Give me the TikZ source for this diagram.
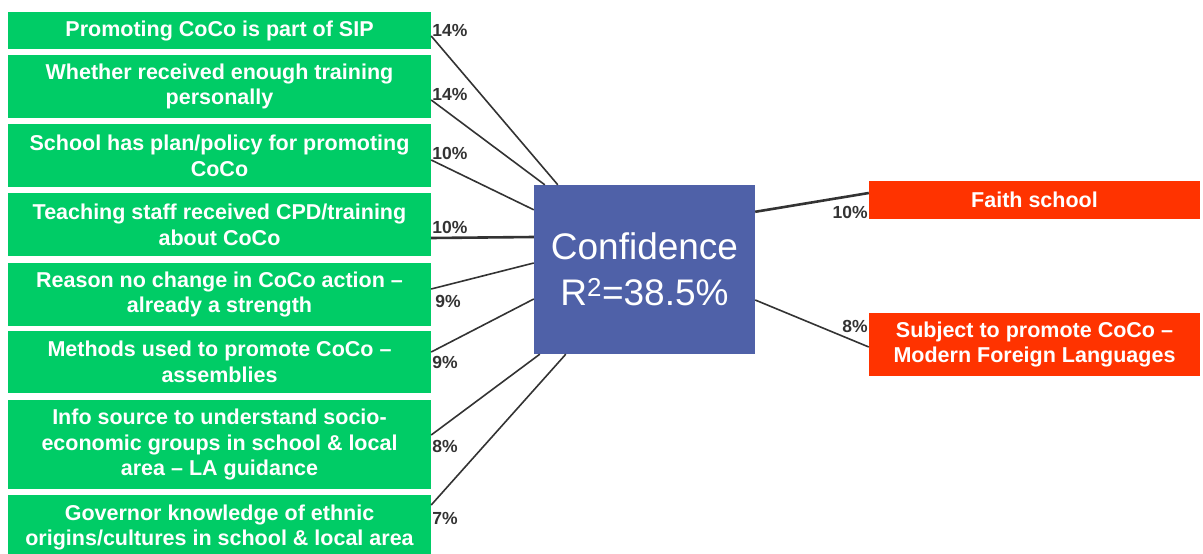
\documentclass[tikz,border=0pt]{standalone}
\usepackage{fontspec}
\setmainfont{Liberation Sans}
\usetikzlibrary{positioning}

\definecolor{factorgreen}{RGB}{0,204,102}
\definecolor{outcomered}{RGB}{255,51,0}
\definecolor{coreblue}{RGB}{79,97,168}
\definecolor{linkgray}{RGB}{51,51,51}

\tikzset{
	factor/.style={fill=factorgreen, text=white, align=center, inner sep=0pt,
		minimum width=423pt, font=\fontsize{21.5}{25.8}\selectfont\bfseries},
	outcome/.style={fill=outcomered, text=white, align=center, inner sep=0pt,
		minimum width=331pt, font=\fontsize{21.5}{25.8}\selectfont\bfseries},
	core/.style={fill=coreblue, text=white, align=center, inner sep=0pt,
		minimum width=221pt, minimum height=169pt, font=\fontsize{37}{46}\selectfont},
	pct/.style={text=linkgray, inner sep=1pt, font=\fontsize{17.5}{20}\selectfont\bfseries},
	link/.style={draw=linkgray, line width=1.6pt},
	boldlink/.style={draw=linkgray, line width=2.6pt}
}

\begin{document}
\begin{tikzpicture}[x=1pt, y=-1pt]
		\useasboundingbox (0,0) rectangle (1203,554);
		
		% predictors
		\node[factor, minimum height=37pt] (sip) at (219.5,30.5) {Promoting CoCo is part of SIP};
		\node[factor, minimum height=63pt] (training) at (219.5,86.5) {Whether received enough training\\personally};
		\node[factor, minimum height=63pt] (policy) at (219.5,155.5) {School has plan/policy for promoting\\CoCo};
		\node[factor, minimum height=63pt] (cpd) at (219.5,224.5) {Teaching staff received CPD/training\\about CoCo};
		\node[factor, minimum height=63pt] (nochange) at (219.5,294.5) {Reason no change in CoCo action –\\already a strength};
		\node[factor, minimum height=62pt] (assembly) at (219.5,362) {Methods used to promote CoCo –\\assemblies};
		\node[factor, minimum height=89pt] (infosrc) at (219.5,444.5) {Info source to understand socio-\\economic groups in school \& local\\area – LA guidance};
		\node[factor, minimum height=65pt] (governor) at (219.5,527.5) {Governor knowledge of ethnic\\origins/cultures in school \& local area};
		
		\node[core] (conf) at (644.5,269.5) {Confidence\\R\textsuperscript{2}=38.5\%};
		
		\node[outcome, minimum height=38pt] (faith) at (1034.5,200) {Faith school};
		\node[outcome, minimum height=63pt] (mfl) at (1034.5,344.5) {Subject to promote CoCo –\\Modern Foreign Languages};
		
		% links into the centre
		\draw[link] ([yshift=-5.5pt]sip.east) -- ([xshift=24pt]conf.north west);
		\draw[link] ([yshift=-13.5pt]training.east) -- ([xshift=11pt]conf.north west);
		\draw[link] ([yshift=-4.5pt]policy.east) -- ([yshift=-25pt]conf.north west);
		\draw[boldlink] ([yshift=-13.5pt]cpd.east) -- ([yshift=32.5pt]conf.west);
		\draw[link] ([yshift=5.5pt]nochange.east) -- ([yshift=6.5pt]conf.west);
		\draw[link] ([yshift=10pt]assembly.east) -- ([yshift=-29.5pt]conf.west);
		\draw[link] ([yshift=9.5pt]infosrc.east) -- ([xshift=6pt]conf.south west);
		\draw[link] ([yshift=22.5pt]governor.east) -- ([xshift=32pt]conf.south west);
		\draw[boldlink] ([yshift=-27pt]conf.north east) -- ([yshift=7pt]faith.west);
		\draw[link] ([yshift=-30.5pt]conf.east) -- ([yshift=-2.5pt]mfl.west);
		
		% percentages
		\node[pct, right=0pt of sip] (w-sip) {14\%};
		\node[pct, right=0pt of training, yshift=-7.5pt] (w-training) {14\%};
		\node[pct, right=0pt of policy, yshift=2.5pt] (w-policy) {10\%};
		\node[pct, right=0pt of cpd, yshift=-2.5pt] (w-cpd) {10\%};
		\node[pct, right=3pt of nochange, yshift=-6.5pt] (w-nochange) {9\%};
		\node[pct, right=0pt of assembly] (w-assembly) {9\%};
		\node[pct, right=0pt of infosrc, yshift=-1.5pt] (w-infosrc) {8\%};
		\node[pct, right=0pt of governor, yshift=9.5pt] (w-governor) {7\%};
		\node[pct, left=0pt of faith, yshift=-12pt] (w-faith) {10\%};
		\node[pct, left=0pt of mfl, yshift=18.5pt] (w-mfl) {8\%};
	\end{tikzpicture}
\end{document}
